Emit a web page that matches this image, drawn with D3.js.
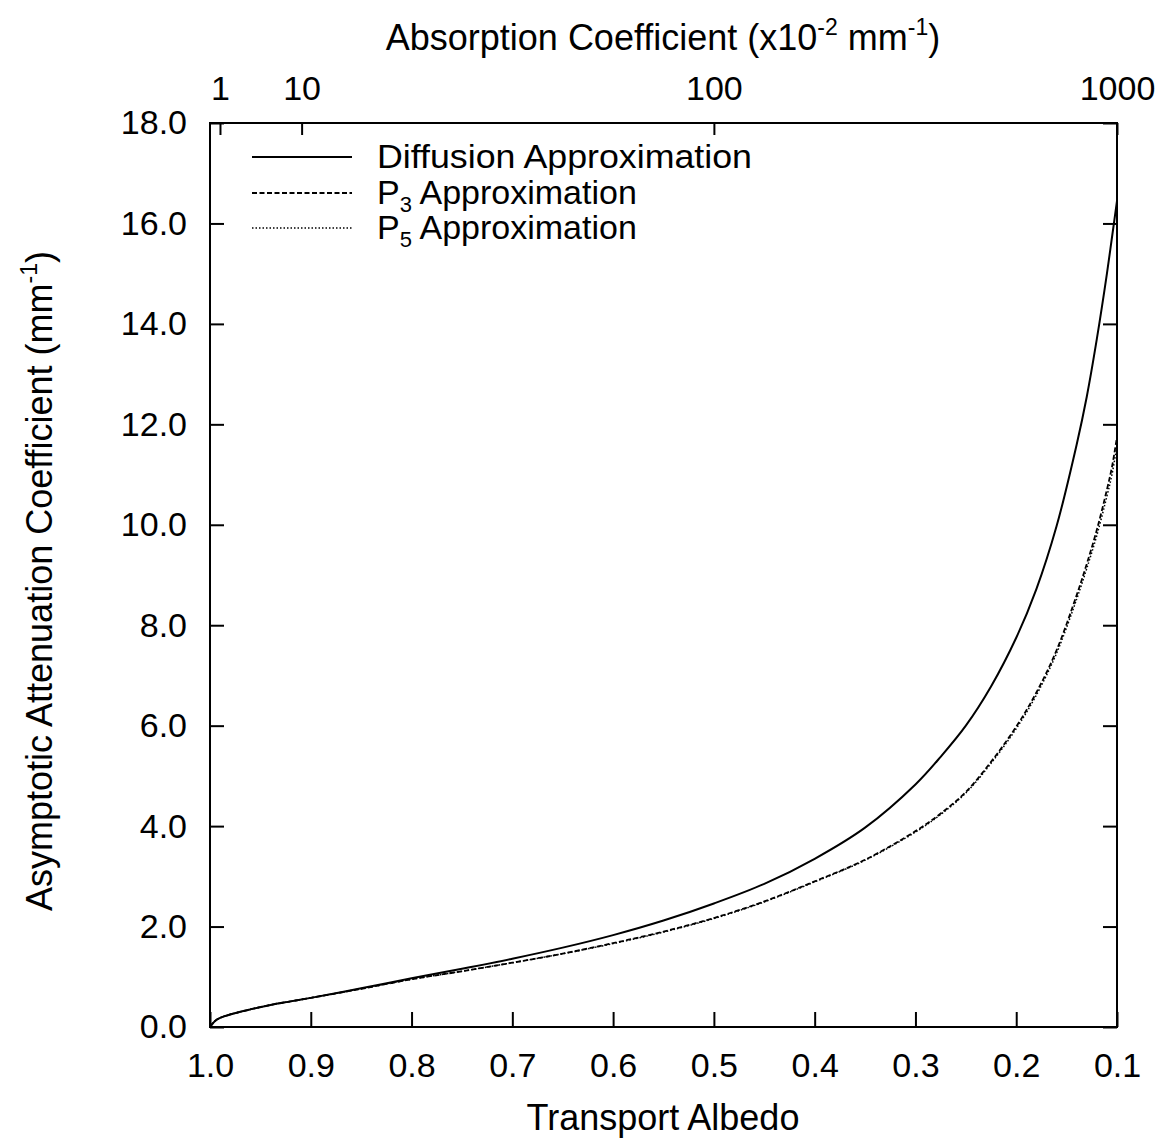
<!DOCTYPE html>
<html>
<head>
<meta charset="utf-8">
<script src="https://cdn.jsdelivr.net/npm/d3@7"></script>
<style>
  html, body { margin: 0; padding: 0; background: #fff; }
  svg { display: block; }
  text { font-family: "Liberation Sans", Arial, Helvetica, sans-serif; fill: #000; }
</style>
</head>
<body>
<svg id="chart" width="1164" height="1140"></svg>
<script>
// Transport albedo sample points (x axis, decreasing to the right)
const albedo = [1.0, 0.995, 0.99, 0.98, 0.96, 0.94, 0.92, 0.9, 0.85, 0.8, 0.75, 0.7,
  0.65, 0.6, 0.55, 0.5, 0.45, 0.4, 0.35, 0.3, 0.275, 0.25, 0.225, 0.2, 0.18,
  0.16, 0.14, 0.13, 0.12, 0.11, 0.105, 0.1];

// Asymptotic attenuation coefficient (mm^-1) for each approximation
const diffusion = [0.0, 0.12, 0.18, 0.25, 0.35, 0.44, 0.51, 0.58, 0.77, 0.97, 1.16, 1.36,
  1.58, 1.83, 2.12, 2.46, 2.85, 3.35, 3.97, 4.83, 5.38, 6.0, 6.78, 7.75, 8.72,
  9.97, 11.6, 12.55, 13.7, 15.0, 15.72, 16.45];
const p3 = [0.0, 0.12, 0.18, 0.25, 0.35, 0.44, 0.51, 0.58, 0.76, 0.95, 1.11, 1.28,
  1.46, 1.67, 1.90, 2.17, 2.50, 2.90, 3.33, 3.90, 4.25, 4.68, 5.28, 5.98, 6.66,
  7.50, 8.60, 9.22, 9.90, 10.70, 11.15, 11.75];
const p5 = [0.0, 0.12, 0.18, 0.25, 0.35, 0.44, 0.51, 0.58, 0.76, 0.95, 1.11, 1.28,
  1.46, 1.66, 1.89, 2.16, 2.49, 2.89, 3.32, 3.88, 4.23, 4.66, 5.25, 5.94, 6.61,
  7.44, 8.52, 9.13, 9.79, 10.57, 11.0, 11.58];

// Axis ticks
const albedoTicks = [1.0, 0.9, 0.8, 0.7, 0.6, 0.5, 0.4, 0.3, 0.2, 0.1];
const attenTicks = [0, 2, 4, 6, 8, 10, 12, 14, 16, 18];
const absorptionTicks = [1, 10, 100, 1000];   // in units of 10^-2 mm^-1

const seriesNames = ["Diffusion Approximation", "P3 Approximation", "P5 Approximation"];

const svg = d3.select("#chart");
const L = 210, R = 1117, T = 123, B = 1027;

const x = d3.scaleLinear().domain([1.0, 0.1]).range([L, R]).clamp(true);
const y = d3.scaleLinear().domain([0, 18]).range([B, T]);

const tickFont = 34;
const titleFont = 36;
const legendFont = 34;

// Bottom axis: transport albedo
const axBottom = svg.append("g").attr("transform", `translate(0,${B})`)
  .call(d3.axisBottom(x).tickValues(albedoTicks).tickFormat(d3.format(".1f"))
    .tickSizeInner(-15).tickSizeOuter(0).tickPadding(26));

// Left axis
const axLeft = svg.append("g").attr("transform", `translate(${L},0)`)
  .call(d3.axisLeft(y).tickValues(attenTicks).tickFormat(d3.format(".1f"))
    .tickSizeInner(-14).tickSizeOuter(0).tickPadding(23));

// Right axis (ticks only)
const axRight = svg.append("g").attr("transform", `translate(${R},0)`)
  .call(d3.axisRight(y).tickValues(attenTicks).tickFormat("")
    .tickSizeInner(-14).tickSizeOuter(0));

// Top axis: absorption coefficient, placed at the matching albedo
const topAlbedo = absorptionTicks.map(v => 100 / (100 + v));
const axTop = svg.append("g").attr("transform", `translate(0,${T})`)
  .call(d3.axisTop(x).tickValues(topAlbedo).tickFormat((d, i) => absorptionTicks[i])
    .tickSizeInner(-12).tickSizeOuter(0).tickPadding(23));
axTop.selectAll(".tick text").attr("dy", "0");

[axBottom, axLeft, axRight, axTop].forEach(g => {
  g.select(".domain").remove();
  g.selectAll(".tick line").attr("stroke", "#000").attr("stroke-width", 2);
  g.selectAll(".tick text").attr("font-size", tickFont).attr("font-family", null);
  g.attr("font-family", null).attr("font-size", null);
});

// Plot frame
svg.append("rect").attr("x", L).attr("y", T).attr("width", R - L).attr("height", B - T)
  .attr("fill", "none").attr("stroke", "#000").attr("stroke-width", 2);

// Curves
const line = d3.line().x((d, i) => x(albedo[i])).y(d => y(d))
  .curve(d3.curveCatmullRom.alpha(0.5));
const styles = [
  { data: diffusion, dash: null, width: 2 },
  { data: p3, dash: "5,2.5", width: 1.8 },
  { data: p5, dash: "1.5,2", width: 1.5 }
];
styles.forEach(s => {
  svg.append("path").attr("d", line(s.data)).attr("fill", "none")
    .attr("stroke", "#000").attr("stroke-width", s.width)
    .attr("stroke-dasharray", s.dash);
});

// Legend
const legendRows = [157, 193, 228];
styles.forEach((s, i) => {
  svg.append("line").attr("x1", 252).attr("x2", 352)
    .attr("y1", legendRows[i]).attr("y2", legendRows[i])
    .attr("stroke", "#000").attr("stroke-width", s.width)
    .attr("stroke-dasharray", s.dash);
});
svg.append("text").attr("x", 377).attr("y", 168).attr("font-size", legendFont)
  .attr("textLength", 375).attr("lengthAdjust", "spacingAndGlyphs")
  .text(seriesNames[0]);
[1, 2].forEach(i => {
  const t = svg.append("text").attr("x", 377).attr("y", legendRows[i] + 11).attr("font-size", legendFont);
  t.append("tspan").text("P");
  t.append("tspan").attr("font-size", 22).attr("dy", 8).text(i === 1 ? "3" : "5");
  t.append("tspan").attr("dy", -8).text(" Approximation");
});

// Axis titles
svg.append("text").attr("x", 663).attr("y", 1130).attr("text-anchor", "middle")
  .attr("font-size", titleFont).text("Transport Albedo");

const topTitle = svg.append("text").attr("x", 663).attr("y", 50).attr("text-anchor", "middle")
  .attr("font-size", titleFont);
topTitle.append("tspan").text("Absorption Coefficient (x10");
topTitle.append("tspan").attr("font-size", 23).attr("dy", -15).text("-2");
topTitle.append("tspan").attr("dy", 15).text(" mm");
topTitle.append("tspan").attr("font-size", 23).attr("dy", -15).text("-1");
topTitle.append("tspan").attr("dy", 15).text(")");

const yTitle = svg.append("text").attr("transform", "translate(52,581) rotate(-90)")
  .attr("text-anchor", "middle").attr("font-size", titleFont);
yTitle.append("tspan").text("Asymptotic Attenuation Coefficient (mm");
yTitle.append("tspan").attr("font-size", 23).attr("dy", -15).text("-1");
yTitle.append("tspan").attr("dy", 15).text(")");
</script>
</body>
</html>
